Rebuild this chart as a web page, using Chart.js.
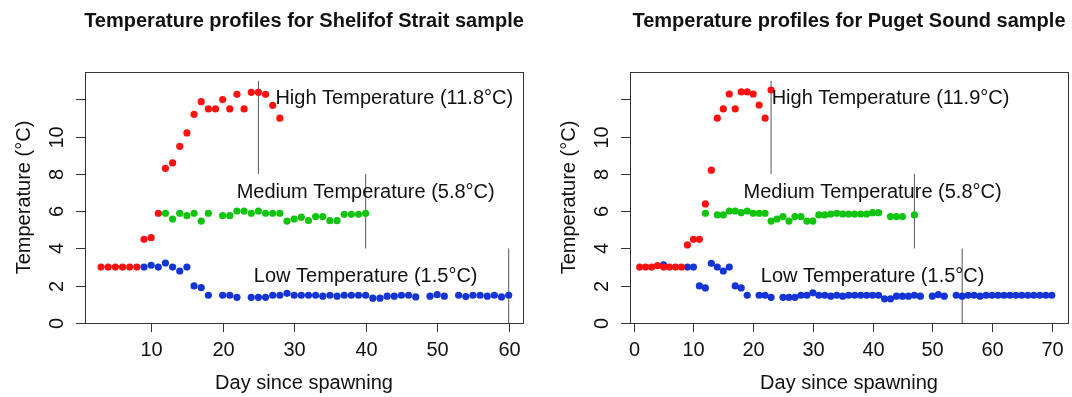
<!DOCTYPE html>
<html>
<head>
<meta charset="utf-8">
<script src="https://cdn.jsdelivr.net/npm/chart.js@4.4.1/dist/chart.umd.min.js"></script>
<style>
  html, body { margin: 0; padding: 0; background: #fff; }
  #wrap { position: relative; width: 1072px; height: 397px; }
  canvas { position: absolute; top: 0; }
  #left { left: 0; }
  #right { left: 536px; }
</style>
</head>
<body>
<div id="wrap">
  <canvas id="left" width="536" height="397"></canvas>
  <canvas id="right" width="536" height="397"></canvas>
</div>
<script>
// ---- Shelikof Strait sample (left panel) ----
const ssHighDays = [3,4,5,6,7,8,9,10,11,12,13,14,15,16,17,18,19,20,21,22,23,24,25,26,27,28];
const ssHighTemp = [3,3,3,3,3,3,4.49,4.58,5.89,8.30,8.59,9.48,10.2,11.2,11.88,11.49,11.49,11.99,11.49,12.27,11.49,12.38,12.38,12.27,11.68,10.99];

const ssMedDays = [12,13,14,15,16,17,18,20,21,22,23,24,25,26,27,28,29,30,31,32,33,34,35,36,37,38,39,40];
const ssMedTemp = [5.89,5.58,5.89,5.76,5.89,5.47,5.89,5.76,5.76,6.01,6.01,5.89,6.01,5.89,5.89,5.89,5.47,5.58,5.68,5.5,5.71,5.71,5.49,5.49,5.83,5.83,5.83,5.89];

const ssLowDays = [9,10,11,12,13,14,15,16,17,18,20,21,22,24,25,26,27,28,29,30,31,32,33,34,35,36,37,38,39,40,41,42,43,44,45,46,47,49,50,51,53,54,55,56,57,58,59,60];
const ssLowTemp = [3.0,3.1,3.0,3.22,3.0,2.79,3.0,1.99,1.9,1.49,1.49,1.49,1.38,1.38,1.38,1.38,1.49,1.49,1.59,1.49,1.49,1.49,1.49,1.44,1.49,1.44,1.49,1.49,1.49,1.49,1.33,1.33,1.44,1.44,1.49,1.49,1.4,1.44,1.52,1.44,1.49,1.42,1.49,1.49,1.44,1.49,1.4,1.49];

// ---- Puget Sound sample (right panel) ----
const psHighDays = [1,2,3,4,5,6,7,8,9,10,11,12,13,14,15,16,17,18,19,20,21,22,23];
const psHighTemp = [3,3,3,3.08,3,3,3,3,4.19,4.49,4.49,6.39,8.2,10.99,11.49,12.29,11.49,12.4,12.4,12.29,11.7,10.99,12.5];

const psMedDays = [12,14,15,16,17,18,19,20,21,22,23,24,25,26,27,28,29,30,31,32,33,34,35,36,37,38,39,40,41,43,44,45,47];
const psMedTemp = [5.89,5.8,5.8,6.01,6.01,5.92,6.01,5.89,5.89,5.89,5.47,5.58,5.71,5.47,5.71,5.71,5.47,5.47,5.8,5.8,5.85,5.89,5.85,5.85,5.85,5.85,5.85,5.92,5.92,5.71,5.71,5.71,5.8];

const psLowDays = [5,9,10,11,12,13,14,15,16,17,18,19,21,22,23,25,26,27,28,29,30,31,32,33,34,35,36,37,38,39,40,41,42,43,44,45,46,47,48,50,51,52,54,55,56,57,58,59,60,61,62,63,64,65,66,67,68,69,70];
const psLowTemp = [3.12,3.0,3.0,1.99,1.88,3.2,3.0,2.79,3.0,1.99,1.88,1.49,1.49,1.49,1.38,1.38,1.38,1.38,1.49,1.49,1.62,1.49,1.49,1.44,1.49,1.44,1.49,1.49,1.49,1.49,1.49,1.49,1.3,1.3,1.44,1.44,1.44,1.49,1.44,1.44,1.52,1.44,1.49,1.44,1.49,1.49,1.44,1.49,1.49,1.49,1.49,1.49,1.49,1.49,1.49,1.49,1.49,1.49,1.49];

// vertical marker lines: day, bottom, top
const ssLines = [[25, 8, 13], [40, 4, 8], [60, 0, 4]];
const psLines = [[23, 8, 13], [47, 4, 8], [55, 0, 4]];

// annotation labels (centred on day, temp)
const ssNotes = ['High Temperature (11.8°C)', 'Medium Temperature (5.8°C)', 'Low Temperature (1.5°C)'];
const psNotes = ['High Temperature (11.9°C)', 'Medium Temperature (5.8°C)', 'Low Temperature (1.5°C)'];
const ssNoteDays = [44, 40, 40];
const psNoteDays = [43, 40, 40];
const noteTemps = [12.05, 7.02, 2.5];

// axis ticks
const ssXTicks = [10, 20, 30, 40, 50, 60];
const psXTicks = [0, 10, 20, 30, 40, 50, 60, 70];
const yTicks = [0, 2, 4, 6, 8, 10, 12];
const yTickLabels = ['0', '2', '4', '6', '8', '10', ''];

const FONT = '"Liberation Sans", Arial, Helvetica, sans-serif';
const COLORS = { high: '#ff1010', med: '#10c410', low: '#1434d6' };

function pts(days, temps) {
    return days.map((d, i) => ({ x: d, y: temps[i] }));
}

function lineSets(lines) {
    return lines.map(l => ({
        data: [{ x: l[0], y: l[1] }, { x: l[0], y: l[2] }],
        showLine: true,
        borderColor: '#555',
        borderWidth: 1,
        pointRadius: 0,
        order: 5
    }));
}

// draws R-style box, ticks, labels and titles using the chart's scales
const rAxes = {
    id: 'rAxes',
    afterDraw(chart, args, opts) {
        const ctx = chart.ctx;
        const a = chart.chartArea;
        const xs = chart.scales.x;
        const ys = chart.scales.y;
        ctx.save();
        ctx.strokeStyle = '#333';
        ctx.lineWidth = 1;
        ctx.strokeRect(a.left + 0.5, a.top + 0.5, a.right - a.left, a.bottom - a.top);

        ctx.fillStyle = '#111';
        ctx.font = '20px ' + FONT;
        ctx.textAlign = 'center';
        ctx.textBaseline = 'middle';

        // x axis
        opts.xTicks.forEach(t => {
            const px = Math.round(xs.getPixelForValue(t)) + 0.5;
            ctx.beginPath();
            ctx.moveTo(px, a.bottom);
            ctx.lineTo(px, a.bottom + 9);
            ctx.stroke();
            ctx.fillText(String(t), px, a.bottom + 27);
        });
        ctx.fillText('Day since spawning', (a.left + a.right) / 2, a.bottom + 60);

        // y axis
        yTicks.forEach((t, i) => {
            const py = Math.round(ys.getPixelForValue(t)) + 0.5;
            ctx.beginPath();
            ctx.moveTo(a.left - 9, py);
            ctx.lineTo(a.left, py);
            ctx.stroke();
            if (yTickLabels[i]) {
                ctx.save();
                ctx.translate(a.left - 28, py);
                ctx.rotate(-Math.PI / 2);
                ctx.fillText(yTickLabels[i], 0, 0);
                ctx.restore();
            }
        });
        ctx.save();
        ctx.translate(a.left - 61, (a.top + a.bottom) / 2);
        ctx.rotate(-Math.PI / 2);
        ctx.fillText('Temperature (°C)', 0, 0);
        ctx.restore();

        // notes
        opts.notes.forEach((n, i) => {
            ctx.fillText(n, xs.getPixelForValue(opts.noteDays[i]), ys.getPixelForValue(noteTemps[i]));
        });

        // main title
        ctx.font = 'bold 20px ' + FONT;
        ctx.fillText(opts.title, (a.left + a.right) / 2, 21);
        ctx.restore();
    }
};

function makePanel(id, cfg) {
    return new Chart(document.getElementById(id), {
        type: 'scatter',
        data: {
            datasets: [
                { data: pts(cfg.high[0], cfg.high[1]), backgroundColor: COLORS.high, order: 1 },
                { data: pts(cfg.med[0], cfg.med[1]), backgroundColor: COLORS.med, order: 2 },
                { data: pts(cfg.low[0], cfg.low[1]), backgroundColor: COLORS.low, order: 3 },
                ...lineSets(cfg.lines)
            ]
        },
        options: {
            responsive: false,
            animation: false,
            layout: { padding: cfg.padding },
            elements: { point: { radius: 3.6, borderWidth: 0 } },
            plugins: {
                legend: { display: false },
                tooltip: { enabled: false },
                rAxes: { title: cfg.title, xTicks: cfg.xTicks, notes: cfg.notes, noteDays: cfg.noteDays }
            },
            scales: {
                x: { type: 'linear', min: cfg.xMin, max: cfg.xMax, display: false },
                y: { type: 'linear', min: 0, max: 13.47, display: false }
            }
        },
        plugins: [rAxes]
    });
}

makePanel('left', {
    title: 'Temperature profiles for Shelifof Strait sample',
    high: [ssHighDays, ssHighTemp], med: [ssMedDays, ssMedTemp], low: [ssLowDays, ssLowTemp],
    lines: ssLines, notes: ssNotes, noteDays: ssNoteDays, xTicks: ssXTicks,
    xMin: 0.75, xMax: 62.0,
    padding: { left: 85, right: 13, top: 72, bottom: 74 }
});

makePanel('right', {
    title: 'Temperature profiles for Puget Sound sample',
    high: [psHighDays, psHighTemp], med: [psMedDays, psMedTemp], low: [psLowDays, psLowTemp],
    lines: psLines, notes: psNotes, noteDays: psNoteDays, xTicks: psXTicks,
    xMin: -0.62, xMax: 72.72,
    padding: { left: 94, right: 2, top: 72, bottom: 74 }
});
</script>
</body>
</html>
